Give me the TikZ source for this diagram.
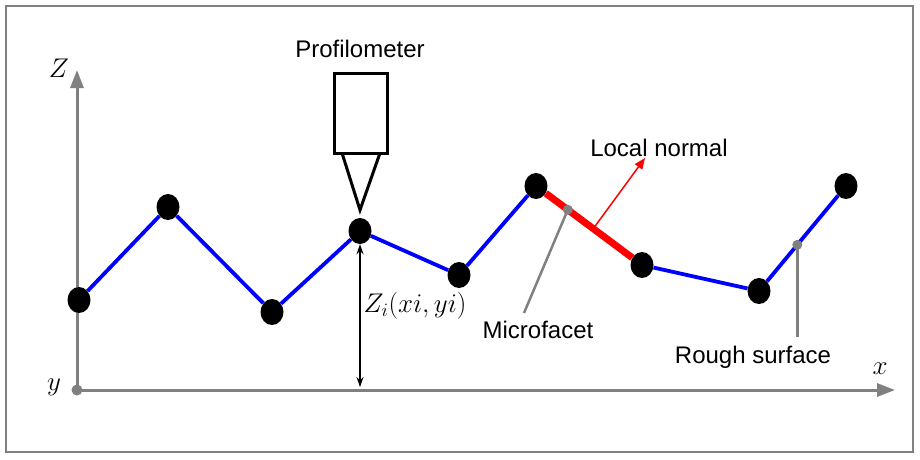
\RequirePackage{fix-cm}
\documentclass[tikz,border=0pt]{standalone}
\usepackage{fontspec}
\setmainfont{Liberation Sans}
\usetikzlibrary{shapes.geometric,arrows.meta,calc}
\definecolor{axgray}{RGB}{128,128,128}
\definecolor{pblue}{RGB}{0,0,255}
\definecolor{pred}{RGB}{255,0,0}
\begin{document}
\begin{tikzpicture}[x=1pt,y=-1pt,
  pt/.style={ellipse,fill=black,inner sep=0pt,minimum width=23pt,minimum height=26pt},
  gdot/.style={circle,fill=axgray,inner sep=0pt,minimum size=10pt},
  lbl/.style={font=\fontsize{24}{28}\selectfont,inner sep=0pt},
  mlbl/.style={font=\fontsize{27}{31}\selectfont,inner sep=0pt},
  axis/.style={axgray,line width=3pt,-{Triangle[length=18pt,width=13pt]}},
  surf/.style={pblue,line width=3.8pt},
  facet/.style={pred,line width=7pt},
  leader/.style={axgray,line width=2.5pt},
  probe/.style={black,line width=3pt}]
\useasboundingbox (0,0) rectangle (920,459);
\draw[axgray,line width=1.5pt] (6,6) rectangle (913,452);
% axes
\node[gdot,minimum size=11pt] (o) at (77,390) {};
\coordinate (ztip) at (77,70);
\coordinate (xtip) at (895,390);
\draw[axis] (o.center) -- (ztip);
\draw[axis] (o.center) -- (xtip);
\node[mlbl] (zl) at (59,68) {$Z$};
\node[mlbl] (yl) at (54,387) {$y$};
\node[mlbl] (xl) at (880,369) {$x$};
% surface points
\node[pt] (p1) at (79,300) {};
\node[pt] (p2) at (168,207) {};
\node[pt] (p3) at (272,312) {};
\node[pt] (p4) at (360,231) {};
\node[pt] (p5) at (459,275) {};
\node[pt] (p6) at (536,186) {};
\node[pt] (p7) at (642,265) {};
\node[pt] (p8) at (759,291) {};
\node[pt] (p9) at (846,186) {};
\draw[surf] (p1) -- (p2);
\draw[surf] (p2) -- (p3);
\draw[surf] (p3) -- (p4);
\draw[surf] (p4) -- (p5);
\draw[surf] (p5) -- (p6);
\draw[facet] (p6) -- (p7);
\draw[surf] (p7) -- (p8);
\draw[surf] (p8) -- (p9);
% profilometer
\node[lbl] (prof) at (360,49) {Profilometer};
\node[draw,probe,inner sep=0pt,minimum width=53pt,minimum height=80pt] (box) at (360.5,113) {};
\coordinate (tl) at (342,153);
\coordinate (tr) at (380,153);
\coordinate (tip) at (360,210);
\draw[probe,line join=miter] (tl) -- (tip) -- (tr);
% height arrow
\coordinate (base) at (360,387);
\draw[black,line width=1.3pt,{Stealth[length=10pt,width=7pt]}-{Stealth[length=10pt,width=7pt]}] (p4.south) -- (base);
\node[mlbl] (zi) at (415,306) {$Z_i(xi,yi)$};
% microfacet
\node[gdot] (mf) at ($(p6)!0.3!(p7)$) {};
\coordinate (mfend) at (524,313);
\draw[leader] (mf.center) -- (mfend);
\node[lbl] (mfl) at (538,330) {Microfacet};
% local normal
\coordinate (nbase) at ($(p6)!0.54!(p7)$);
\coordinate (ntip) at (645,158);
\draw[pred,line width=1.5pt,-{Triangle[length=11pt,width=9pt]}] (nbase) -- (ntip);
\node[lbl] (lnl) at (659,148) {Local normal};
% rough surface
\node[gdot] (rs) at ($(p8)!0.44!(p9)$) {};
\coordinate (rsend) at (798,337);
\draw[leader] (rs.center) -- (rs.center |- rsend);
\node[lbl] (rsl) at (753,357) {Rough surface};
\end{tikzpicture}
\end{document}
